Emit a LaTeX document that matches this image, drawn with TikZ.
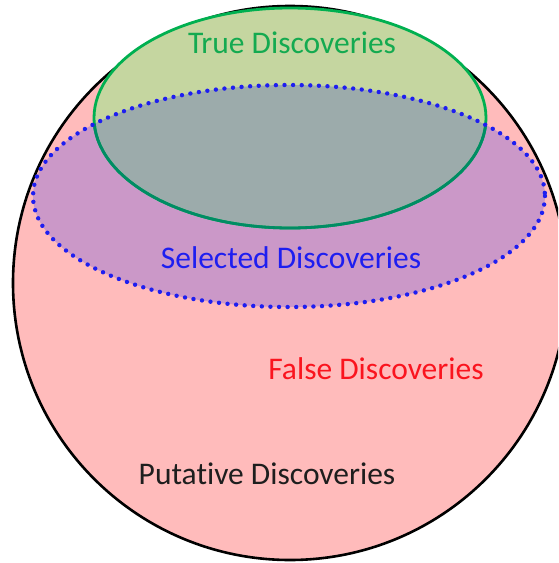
\documentclass[tikz,border=0pt]{standalone}
\usepackage{fontspec}
\setmainfont[Ligatures=NoCommon]{Carlito}
\definecolor{pinkfill}{RGB}{255,187,187}
\definecolor{purplefill}{RGB}{203,152,200}
\definecolor{greenfill}{RGB}{197,214,160}
\definecolor{overlapfill}{RGB}{156,171,171}
\definecolor{greenline}{RGB}{0,176,80}
\definecolor{truegreen}{RGB}{20,170,80}
\definecolor{darkgreenline}{RGB}{0,140,100}
\definecolor{selblue}{RGB}{30,30,240}
\definecolor{falsered}{RGB}{250,20,30}
\definecolor{putblack}{RGB}{30,30,30}
\tikzset{
  lbl/.style={font=\fontsize{31.5}{36}\selectfont, inner sep=0pt, anchor=center},
}
\begin{document}
\begin{tikzpicture}[x=1pt,y=-1pt]
\useasboundingbox (0,0) rectangle (558,563);
\clip (0,0) rectangle (558,563);
\fill[white] (0,0) rectangle (558,563);
% putative circle
\fill[pinkfill] (290,283) circle[radius=277];
\draw[black, line width=2.6pt] (290,283) circle[radius=277];
% selected ellipse fill
\fill[purplefill] (289,196) ellipse[x radius=256, y radius=111];
% true ellipse fill
\fill[greenfill] (290,118) ellipse[x radius=196, y radius=110];
% overlap
\begin{scope}
  \clip (289,196) ellipse[x radius=256, y radius=111];
  \fill[overlapfill] (290,118) ellipse[x radius=196, y radius=110];
\end{scope}
% true outline
\draw[greenline, line width=2.8pt] (290,118) ellipse[x radius=196, y radius=110];
\begin{scope}
  \clip (289,196) ellipse[x radius=256, y radius=111];
  \draw[darkgreenline, line width=2.8pt] (290,118) ellipse[x radius=196, y radius=110];
\end{scope}
% selected outline dotted
\draw[selblue, line width=4.4pt, line cap=round, dash pattern=on 0pt off 8.6pt] (289,196) ellipse[x radius=256, y radius=111];
% labels
\node[lbl, text=truegreen] (true) at (292,43) {True Discoveries};
\node[lbl, text=selblue] (sel) at (291,258) {Selected Discoveries};
\node[lbl, text=falsered] (false) at (376,369) {False Discoveries};
\node[lbl, text=putblack] (put) at (267,474) {Putative Discoveries};
\end{tikzpicture}
\end{document}
